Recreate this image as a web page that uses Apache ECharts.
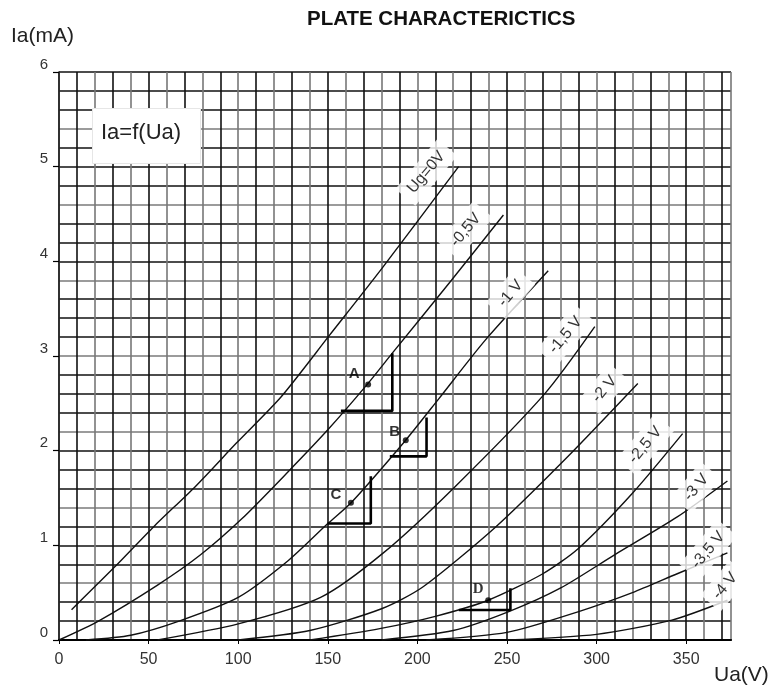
<!DOCTYPE html>
<html>
<head>
<meta charset="utf-8">
<script src="https://cdn.jsdelivr.net/npm/echarts@6/dist/echarts.min.js"></script>
<style>html,body{margin:0;padding:0;background:#fff}#c{width:777px;height:693px}</style>
</head>
<body>
<div id="c"></div>
<script>
// ---- data (Ua in V, Ia in mA) ----
const ug0   = [[7,0.32],[31,0.77],[53,1.2],[76,1.62],[99,2.08],[124,2.57],[151,3.22],[180,3.92],[223,5.0]];
const ugM05 = [[0,0],[22,0.2],[55,0.58],[79,0.9],[102,1.28],[128,1.78],[150,2.22],[172,2.7],[186,3.03],[219,3.8],[248,4.49]];
const ugM1  = [[15,0],[40,0.05],[67,0.2],[100,0.45],[128,0.84],[150,1.23],[163,1.45],[193,2.1],[212,2.55],[238,3.17],[273,3.9]];
const ugM15 = [[55,0],[100,0.17],[146,0.45],[181,0.92],[221,1.62],[271,2.6],[299,3.31]];
const ugM2  = [[100,0],[140,0.1],[180,0.33],[203,0.56],[244,1.2],[283,1.92],[323,2.71]];
const ugM25 = [[140,0],[179,0.12],[210,0.25],[239.5,0.42],[270,0.7],[290,0.97],[320,1.55],[348,2.18]];
const ugM3  = [[180,0],[220,0.1],[251,0.3],[280,0.55],[310,0.9],[345,1.3],[373,1.68]];
const ugM35 = [[205,0],[250,0.08],[290,0.3],[320,0.5],[345,0.7],[373,0.92]];
const ugM4  = [[250,0],[300,0.06],[342,0.21],[373,0.42]];
const curves = [ug0, ugM05, ugM1, ugM15, ugM2, ugM25, ugM3, ugM35, ugM4];

const curveLabels = ['Ug=0V','-0,5V','-1 V','-1,5 V','-2 V','-2,5 V','-3 V','-3,5 V','-4 V'];
const curveLabelPos = [[205,4.94],[227,4.33],[252,3.66],[282.7,3.22],[304.4,2.65],[327.2,2.06],[355.6,1.61],[362.3,0.95],[371.7,0.57]];

const pointNames = ['A','B','C','D'];
const pointPos = [[172.5,2.70],[193.5,2.11],[162.9,1.45],[239.5,0.42]];
const brackets = [
  [[157.3,2.42],[186,2.42],[186,3.03]],
  [[184.6,1.94],[205.1,1.94],[205.1,2.35]],
  [[149.9,1.23],[174,1.23],[174,1.73]],
  [[223.1,0.317],[251.9,0.317],[251.9,0.546]]
];
const xTicks = [0,50,100,150,200,250,300,350];
const yTicks = [0,1,2,3,4,5,6];

const chart = echarts.init(document.getElementById('c'));
const series = [];
curves.forEach(function(c){
  series.push({type:'line', data:c, smooth:0.25, symbol:'none', z:3,
    lineStyle:{color:'#111', width:1.4}, xAxisIndex:0, yAxisIndex:0, silent:true});
});
brackets.forEach(function(b){
  series.push({type:'line', data:b, symbol:'none', z:4, lineStyle:{color:'#000', width:2.6}, xAxisIndex:0, yAxisIndex:0});
});
series.push({type:'scatter', xAxisIndex:0, yAxisIndex:0, z:6, symbolSize:6, itemStyle:{color:'#000'},
  data: pointPos.map(function(p,i){
    const off = [[-14,-11],[-11,-8],[-15,-8],[-10,-11]][i];
    return {value:p, label:{show:true, formatter:pointNames[i], position:'inside', offset:off,
      fontSize:15, fontWeight:'bold', color:'#000',
      fontFamily: i===3 ? 'Liberation Serif' : 'Liberation Sans'}};
  })
});
series.push({type:'scatter', xAxisIndex:0, yAxisIndex:0, z:5, symbolSize:0,
  data: curveLabelPos.map(function(p,i){
    return {value:p, label:{show:true, formatter:curveLabels[i], position:'inside', rotate:50,
      fontSize:16, color:'#000', fontFamily:'Liberation Sans', backgroundColor:'#fff', padding:[5,8]}};
  })
});

chart.setOption({
  animation:false,
  backgroundColor:'#fff',
  grid:{left:59, right:46, top:72, bottom:53, containLabel:false},
  xAxis:[
    {type:'value', min:0, max:375, interval:50, position:'bottom',
     axisLine:{show:true, lineStyle:{color:'#000', width:1.5}},
     axisTick:{show:true, length:4, lineStyle:{color:'#000'}},
     axisLabel:{showMaxLabel:false, margin:12, fontSize:16, color:'#333', fontFamily:'Liberation Sans',
       formatter:function(v){ return xTicks.indexOf(v)>=0 ? String(v) : ''; }},
     splitLine:{show:false}},
    {type:'value', min:0, max:375, interval:10, position:'top',
     axisLine:{show:true, lineStyle:{color:'#000', width:2}},
     axisTick:{show:false}, axisLabel:{show:false},
     splitLine:{show:true, lineStyle:{color:['#777','#111'], width:1.6}}}
  ],
  yAxis:[
    {type:'value', min:0, max:6, interval:1, position:'left',
     axisLine:{show:false},
     axisTick:{show:true, length:6, lineStyle:{color:'#000', width:1.2}},
     axisLabel:{margin:11, fontSize:15, color:'#333', fontFamily:'Liberation Sans', verticalAlign:'bottom',
       formatter:function(v){ return yTicks.indexOf(Math.round(v))>=0 ? String(Math.round(v)) : ''; }},
     splitLine:{show:false}},
    {type:'value', min:0, max:6, interval:0.2, position:'right',
     axisLine:{show:true, lineStyle:{color:'#111', width:1.5}},
     axisTick:{show:false}, axisLabel:{show:false},
     splitLine:{show:true, lineStyle:{color:['#111','#111','#111','#7a7a7a'], width:1.5}}}
  ],
  graphic:[
    {type:'text', left:307, top:9, style:{text:'PLATE CHARACTERICTICS', font:'bold 20.5px "Liberation Sans"', fill:'#111'}},
    {type:'text', left:11, top:26, style:{text:'Ia(mA)', font:'21px "Liberation Sans"', fill:'#222'}},
    {type:'text', left:714, top:665, style:{text:'Ua(V)', font:'21px "Liberation Sans"', fill:'#222'}},
    {type:'rect', left:92, top:108, z:10, shape:{width:108, height:55}, style:{fill:'#fff', stroke:'#e6e6e6', lineWidth:1}},
    {type:'text', left:101, top:122, z:11, style:{text:'Ia=f(Ua)', font:'22px "Liberation Sans"', fill:'#222'}}
  ],
  series:series
});
</script>
</body>
</html>
